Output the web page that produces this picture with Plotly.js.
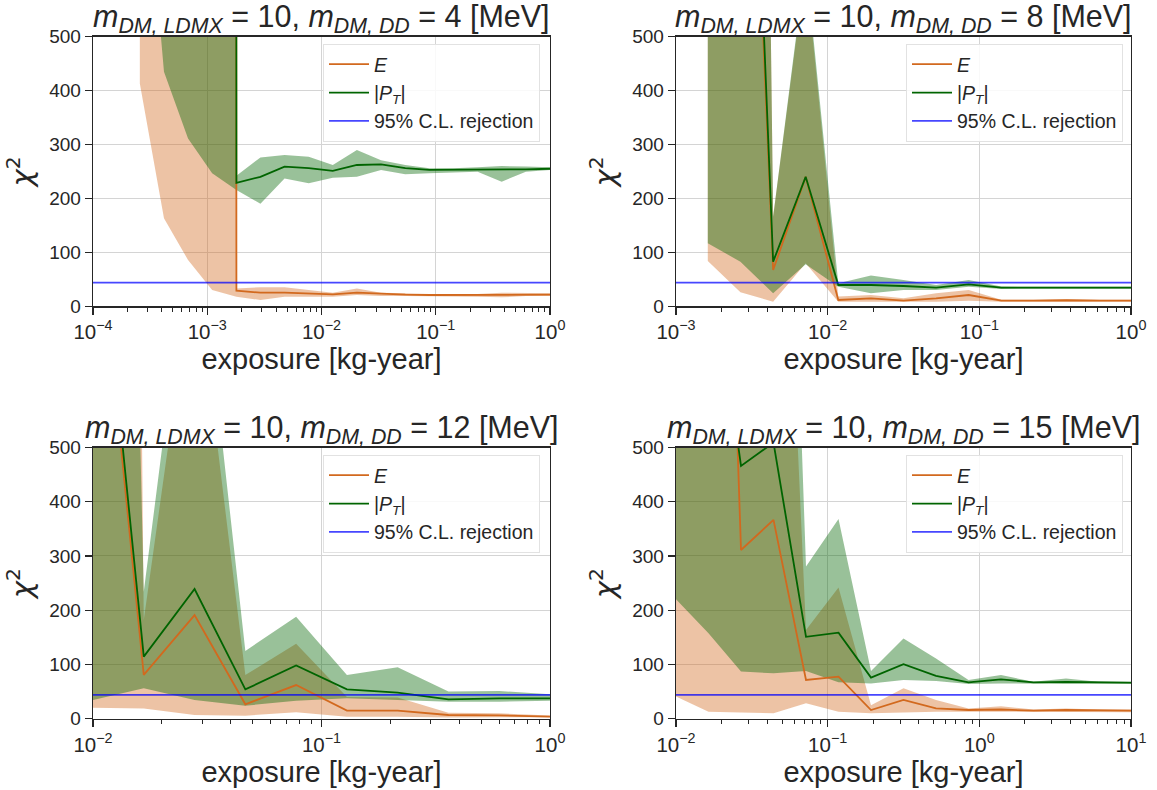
<!DOCTYPE html>
<html>
<head>
<meta charset="utf-8">
<script src="https://cdn.plot.ly/plotly-3.0.1.min.js"></script>
<style>html,body{margin:0;padding:0;background:#fff;}#chart{width:1157px;height:790px;}</style>
</head>
<body>
<div id="chart"></div>
<script>
// ---------- data ----------
const threshold95 = 43.8;  // 95% C.L. rejection level of chi^2

// panel 1: m_DM,LDMX = 10, m_DM,DD = 4 MeV
const p1_x    = [2.57e-4, 4.18e-4, 6.79e-4, 1.104e-3, 1.80e-3, 2.92e-3, 4.75e-3, 7.73e-3, 0.01256, 0.0204, 0.0332, 0.0541, 0.0879, 0.1429, 0.2323, 0.3776, 0.615, 1.0];
const p1_E    = [1e5, 1e5, 1e5, 1e5, 28.8, 25, 25, 23.9, 22, 25, 22.6, 21.3, 20.8, 20.8, 21.3, 21.3, 21.3, 21.3];
const p1_Ehi  = [1e5, 1e5, 1e5, 1e5, 33, 35, 35, 30, 25, 33, 25, 24, 22.6, 22.6, 22.6, 25, 23.9, 23.9];
const p1_Elo  = [413, 163, 85.7, 30, 17.7, 11.5, 17.7, 17.7, 17.7, 20.8, 19, 19, 19, 19, 17.7, 16.4, 19, 19];
const p1_PT   = [1e5, 1e5, 1e5, 1e5, 229, 240, 259, 256, 251, 262, 263, 256, 253, 253, 253, 253, 254, 255];
const p1_PThi = [1e5, 1e5, 1e5, 1e5, 242, 276, 280.5, 277.5, 262, 290, 271, 262, 256, 256, 257.6, 260, 259, 257.6];
const p1_PTlo = [950, 435, 311, 246.5, 215.6, 190, 237, 228, 238.5, 240, 252.7, 244.6, 246.5, 247.7, 249.6, 231, 249.6, 252.7];

// panel 2: m_DM,DD = 8 MeV
const p2_x    = [1.62e-3, 2.66e-3, 4.37e-3, 7.16e-3, 0.01175, 0.01928, 0.03162, 0.0519, 0.0851, 0.1396, 0.2291, 0.3758, 0.6166, 1.0];
const p2_E    = [5000, 1500, 67.2, 240, 11.5, 14.6, 10.3, 14.6, 20.8, 10.3, 10.3, 11, 10.3, 10.3];
const p2_Ehi  = [5000, 5000, 166, 630, 17.8, 20.8, 14.6, 23.9, 30, 12, 12, 13, 12, 12];
const p2_Elo  = [83.8, 25.7, 8.4, 79.5, 8.4, 8.4, 8.4, 8.4, 10.3, 8.4, 8.4, 8.4, 8.4, 8.4];
const p2_PT   = [5000, 1584, 82.6, 240, 39.3, 39.3, 37.5, 34.4, 40.6, 34.4, 34.4, 34.4, 34.4, 34.4];
const p2_PThi = [5000, 5000, 166, 640, 42.4, 56.8, 48.6, 39.3, 48.6, 36.5, 36, 36, 36, 36];
const p2_PTlo = [116.6, 82.6, 24, 77.7, 36, 24, 30, 30, 36.2, 32, 32.5, 32.5, 32.5, 32.5];

// panel 3: m_DM,DD = 12 MeV
const p3_x    = [0.01, 0.01668, 0.02783, 0.04642, 0.07743, 0.1292, 0.2154, 0.3594, 0.5995, 1.0];
const p3_E    = [1019, 80.7, 191, 26.6, 62, 14.8, 14.8, 6.8, 6.2, 3.8];
const p3_Ehi  = [9800, 182, 850, 80.7, 138, 40, 39, 11, 10, 6];
const p3_Elo  = [20.4, 19, 6.8, 5.6, 12, 3.8, 3.8, 2, 2.5, 2.5];
const p3_PT   = [1046, 114.5, 239, 54, 98, 54, 48, 35.7, 37.5, 37.5];
const p3_PThi = [4264, 234, 970, 125, 188, 80.6, 94.7, 50, 51, 45];
const p3_PTlo = [34.5, 56, 34.5, 24, 33, 37.5, 34.5, 31.4, 31.4, 33];

// panel 4: m_DM,DD = 15 MeV
const p4_x    = [0.01, 0.01638, 0.02683, 0.04394, 0.07197, 0.1179, 0.1931, 0.3162, 0.518, 0.8483, 1.389, 2.276, 3.728, 6.105, 10.0];
const p4_E    = [3000, 2100, 311, 366.5, 71.4, 77.5, 16, 34.5, 19, 16, 17, 14.8, 16, 14.8, 14.8];
const p4_Ehi  = [2000, 2000, 2000, 1500, 163.6, 241.7, 25, 56, 34.5, 19, 23, 17, 19, 17, 17];
const p4_Elo  = [41, 13, 11.3, 10, 28.4, 13, 10, 12, 13, 13, 13, 12, 12, 12, 12];
const p4_PT   = [3000, 900, 466, 509, 151, 158.7, 75.7, 100.4, 79, 67, 72.6, 67, 68, 67, 66.5];
const p4_PThi = [5000, 5000, 3000, 2000, 280.5, 368, 88, 148, 111, 71.4, 80.5, 68, 74, 68, 67.5];
const p4_PTlo = [220, 157.5, 86.8, 83.7, 88, 67, 65, 71.4, 69.6, 64, 65, 64, 64, 64, 64];

const titleMasses = [4, 8, 12, 15];
const xLogRanges = [[-4, 0], [-3, 0], [-2, 0], [-2, 1]];
const xTickExponents = [[-4, -3, -2, -1, 0], [-3, -2, -1, 0], [-2, -1, 0], [-2, -1, 0, 1]];
const yRange = [0, 500];
const yTicks = [0, 100, 200, 300, 400, 500];
const legendNames = ["<i>E</i>", "|<i>P</i><sub><i>T</i></sub>|", "95% C.L. rejection"];
const xTitle = "exposure [kg-year]";
const yTitle = "<i>χ</i><sup>2</sup>";

// ---------- styling ----------
const FONT = "Liberation Sans, Arial, Helvetica, sans-serif";
const TXT = "#262626";
const E_COL = "#d2691e", E_FILL = "rgba(210,105,30,0.4)";
const P_COL = "#006400", P_FILL = "rgba(0,100,0,0.4)";
const B_COL = "rgba(0,0,255,0.72)";

const panels = [
  {x: p1_x, E: p1_E, Ehi: p1_Ehi, Elo: p1_Elo, P: p1_PT, Phi: p1_PThi, Plo: p1_PTlo},
  {x: p2_x, E: p2_E, Ehi: p2_Ehi, Elo: p2_Elo, P: p2_PT, Phi: p2_PThi, Plo: p2_PTlo},
  {x: p3_x, E: p3_E, Ehi: p3_Ehi, Elo: p3_Elo, P: p3_PT, Phi: p3_PThi, Plo: p3_PTlo},
  {x: p4_x, E: p4_E, Ehi: p4_Ehi, Elo: p4_Elo, P: p4_PT, Phi: p4_PThi, Plo: p4_PTlo},
];

const W = 1157, H = 790;
const xDom = [[93/W, 550/W], [676/W, 1131/W]];
const yDom = [[(H-306.2)/H, (H-36.7)/H], [(H-718.7)/H, (H-447.5)/H]];
const titleCenterY = [18, 429];

const traces = [];
const layout = {
  width: W, height: H,
  margin: {l: 0, r: 0, t: 0, b: 0},
  paper_bgcolor: "#fff", plot_bgcolor: "#fff",
  font: {family: FONT, color: TXT, size: 18},
  showlegend: true,
  annotations: []
};

panels.forEach((p, i) => {
  const n = i + 1;
  const xa = "x" + (n === 1 ? "" : n), ya = "y" + (n === 1 ? "" : n);
  const lg = "legend" + (n === 1 ? "" : n);
  const base = {xaxis: xa, yaxis: ya, legend: lg, type: "scatter", mode: "lines", hoverinfo: "skip"};
  // E band
  traces.push(Object.assign({}, base, {x: p.x, y: p.Elo, line: {width: 0, color: E_FILL}, showlegend: false}));
  traces.push(Object.assign({}, base, {x: p.x, y: p.Ehi, line: {width: 0, color: E_FILL}, fill: "tonexty", fillcolor: E_FILL, showlegend: false}));
  // PT band
  traces.push(Object.assign({}, base, {x: p.x, y: p.Plo, line: {width: 0, color: P_FILL}, showlegend: false}));
  traces.push(Object.assign({}, base, {x: p.x, y: p.Phi, line: {width: 0, color: P_FILL}, fill: "tonexty", fillcolor: P_FILL, showlegend: false}));
  // lines
  traces.push(Object.assign({}, base, {x: p.x, y: p.E, name: legendNames[0], line: {color: E_COL, width: 1.8}, showlegend: true}));
  traces.push(Object.assign({}, base, {x: p.x, y: p.P, name: legendNames[1], line: {color: P_COL, width: 1.8}, showlegend: true}));
  const r = xLogRanges[i];
  traces.push(Object.assign({}, base, {x: [Math.pow(10, r[0]), Math.pow(10, r[1])], y: [threshold95, threshold95], name: legendNames[2], line: {color: B_COL, width: 1.8}, showlegend: true}));

  const col = i % 2, row = Math.floor(i / 2);
  const axCommon = {
    showline: true, mirror: true, linecolor: TXT, linewidth: 1.3,
    ticks: "outside", ticklen: 7, tickwidth: 1.3, tickcolor: TXT,
    showgrid: true, gridcolor: "#d4d4d4", gridwidth: 1,
    zeroline: false, tickfont: {family: FONT, size: 19, color: TXT}
  };
  const ex = xTickExponents[i];
  layout["xaxis" + (n === 1 ? "" : n)] = Object.assign({}, axCommon, {
    type: "log", range: r, domain: xDom[col], anchor: ya,
    tickvals: ex.map(e => Math.pow(10, e)),
    ticktext: ex.map(e => "10<sup>" + (e < 0 ? "−" + (-e) : e) + "</sup>"),
    tickfont: {family: FONT, size: 20.5, color: TXT},
    minor: {ticks: "outside", ticklen: 4, tickwidth: 1, tickcolor: TXT, dtick: "D1", showgrid: false},
    title: {text: xTitle, font: {family: FONT, size: 29, color: TXT}, standoff: 1}
  });
  layout["yaxis" + (n === 1 ? "" : n)] = Object.assign({}, axCommon, {
    range: yRange, domain: yDom[row], anchor: xa, tickvals: yTicks,
    title: {text: yTitle, font: {family: "DejaVu Sans, sans-serif", size: 29, color: TXT}, standoff: 8}
  });
  layout[lg] = {
    x: col === 0 ? 540/W : 1123/W, xanchor: "right",
    y: row === 0 ? (H-44)/H : (H-455)/H, yanchor: "top",
    traceorder: "normal",
    bgcolor: "rgba(255,255,255,0.85)", bordercolor: "#e2e2e2", borderwidth: 1,
    font: {family: FONT, size: 19.5, color: TXT}, itemwidth: 40
  };
  layout.annotations.push({
    xref: "paper", yref: "paper",
    x: (xDom[col][0] + xDom[col][1]) / 2, y: (H - titleCenterY[row]) / H,
    xanchor: "center", yanchor: "middle", showarrow: false,
    text: "<i>m</i><sub><i>DM, LDMX</i></sub> = 10, <i>m</i><sub><i>DM, DD</i></sub> = " + titleMasses[i] + " [MeV]",
    font: {family: FONT, size: 30.5, color: TXT}
  });
});

Plotly.newPlot("chart", traces, layout, {staticPlot: true, displayModeBar: false});
</script>
</body>
</html>
